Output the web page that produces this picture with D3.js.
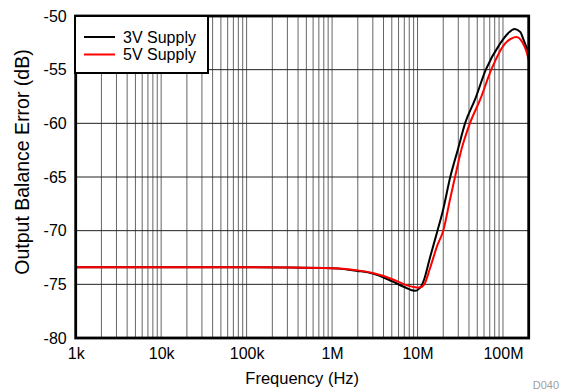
<!DOCTYPE html>
<html>
<head>
<meta charset="utf-8">
<script src="https://cdn.jsdelivr.net/npm/d3@7"></script>
<style>
  html, body { margin: 0; padding: 0; background: #fff; }
  svg { display: block; font-family: Arial, "Liberation Sans", sans-serif; }
</style>
</head>
<body>
<svg id="chart" width="565" height="392"></svg>
<script>
// Frequency sweep (Hz) and output balance error (dB) for each supply
const freq3V = [1e3, 1e4, 1e5, 3e5, 1e6, 2e6, 3e6, 5e6, 7e6, 9.3e6, 11e6, 12e6, 14e6, 17e6, 20e6, 24e6, 30e6, 36e6, 47e6, 63e6, 92e6, 115e6, 137e6, 160e6, 172e6, 190e6, 200e6];
const err3V  = [-73.4, -73.4, -73.4, -73.42, -73.5, -73.75, -74.0, -74.7, -75.25, -75.6, -75.2, -74.5, -72.5, -70.1, -68.0, -65.1, -62.3, -60.0, -57.8, -55.0, -52.6, -51.6, -51.2, -51.5, -52.1, -53.0, -53.5];

const freq5V = [1e3, 1e4, 1e5, 3e5, 1e6, 2e6, 3e6, 5e6, 7e6, 9e6, 10.6e6, 12e6, 14e6, 17e6, 20e6, 24e6, 27.3e6, 33e6, 41e6, 54e6, 73e6, 105e6, 125e6, 144e6, 170e6, 190e6, 200e6];
const err5V  = [-73.4, -73.4, -73.4, -73.42, -73.5, -73.7, -73.95, -74.5, -75.0, -75.25, -75.3, -75.0, -73.5, -71.4, -70.0, -67.1, -65.1, -62.3, -60.0, -57.8, -55.0, -52.6, -52.1, -51.95, -52.5, -53.4, -54.1];

const seriesNames = ["3V Supply", "5V Supply"];
const seriesColors = ["#000000", "#ff0000"];

const xTickValues = [1e3, 1e4, 1e5, 1e6, 1e7, 1e8];
const xTickLabels = ["1k", "10k", "100k", "1M", "10M", "100M"];
const yTickValues = [-80, -75, -70, -65, -60, -55, -50];

const svg = d3.select("#chart");
const W = 565, H = 392;
const margin = { left: 75.7, right: W - 528.7, top: 16, bottom: H - 338 };
const x0 = margin.left, x1 = W - margin.right, y0 = margin.top, y1 = H - margin.bottom;
const FONT = "Arial, 'Liberation Sans', sans-serif";

const x = d3.scaleLog().domain([1e3, 2e8]).range([x0, x1]);
const y = d3.scaleLinear().domain([-80, -50]).range([y1, y0]);

// Vertical grid: 1..9 within every decade
const vGrid = [];
for (let dec = 3; dec <= 8; dec++) {
  for (let m = 1; m <= 9; m++) {
    const v = m * Math.pow(10, dec);
    if (v > 1e3 && v < 2e8) vGrid.push(v);
  }
}
svg.append("g").selectAll("line").data(vGrid).join("line")
  .attr("x1", d => x(d)).attr("x2", d => x(d))
  .attr("y1", y0).attr("y2", y1)
  .attr("stroke", "#666").attr("stroke-width", 1);

svg.append("g").selectAll("line").data(yTickValues.slice(1, -1)).join("line")
  .attr("x1", x0).attr("x2", x1)
  .attr("y1", d => y(d)).attr("y2", d => y(d))
  .attr("stroke", "#222").attr("stroke-width", 1);

// Curves
const line = d3.line().x(d => x(d[0])).y(d => y(d[1])).curve(d3.curveMonotoneX);
const series = [d3.zip(freq3V, err3V), d3.zip(freq5V, err5V)];
svg.append("g").selectAll("path").data(series).join("path")
  .attr("d", line)
  .attr("fill", "none")
  .attr("stroke", (d, i) => seriesColors[i])
  .attr("stroke-width", 2);

// Frame
svg.append("rect")
  .attr("x", x0).attr("y", y0).attr("width", x1 - x0).attr("height", y1 - y0)
  .attr("fill", "none").attr("stroke", "#000").attr("stroke-width", 2.8);

// Axes (labels only; the frame serves as the axis line)
const xAxis = d3.axisBottom(x).tickValues(xTickValues)
  .tickFormat((d, i) => xTickLabels[i]).tickSize(0).tickPadding(10);
const gx = svg.append("g").attr("transform", `translate(0,${y1})`).call(xAxis);
gx.select(".domain").remove();
gx.selectAll("text").attr("font-size", 16).attr("fill", "#000").attr("font-family", FONT);

const yAxis = d3.axisLeft(y).tickValues(yTickValues).tickFormat(d => String(d))
  .tickSize(0).tickPadding(9);
const gy = svg.append("g").attr("transform", `translate(${x0},0)`).call(yAxis);
gy.select(".domain").remove();
gy.selectAll("text").attr("font-size", 16).attr("fill", "#000").attr("font-family", FONT);

// Axis titles
svg.append("text")
  .attr("x", (x0 + x1) / 2).attr("y", 384)
  .attr("text-anchor", "middle").attr("font-size", 16.5)
  .text("Frequency (Hz)");
svg.append("text")
  .attr("transform", `translate(29,162) rotate(-90)`)
  .attr("text-anchor", "middle").attr("font-size", 19.5)
  .text("Output Balance Error (dB)");

svg.append("text")
  .attr("x", 559).attr("y", 389)
  .attr("text-anchor", "end").attr("font-size", 11).attr("fill", "#a0a0a0")
  .text("D040");

// Legend
const lg = svg.append("g");
lg.append("rect").attr("x", 75).attr("y", 16).attr("width", 133).attr("height", 57)
  .attr("fill", "#fff").attr("stroke", "#000").attr("stroke-width", 2);
seriesNames.forEach((name, i) => {
  const ly = 37 + i * 17.5;
  lg.append("line").attr("x1", 84).attr("x2", 115).attr("y1", ly).attr("y2", ly)
    .attr("stroke", seriesColors[i]).attr("stroke-width", 2);
  lg.append("text").attr("x", 123).attr("y", ly + 5.5).attr("font-size", 16).text(name);
});
</script>
</body>
</html>
